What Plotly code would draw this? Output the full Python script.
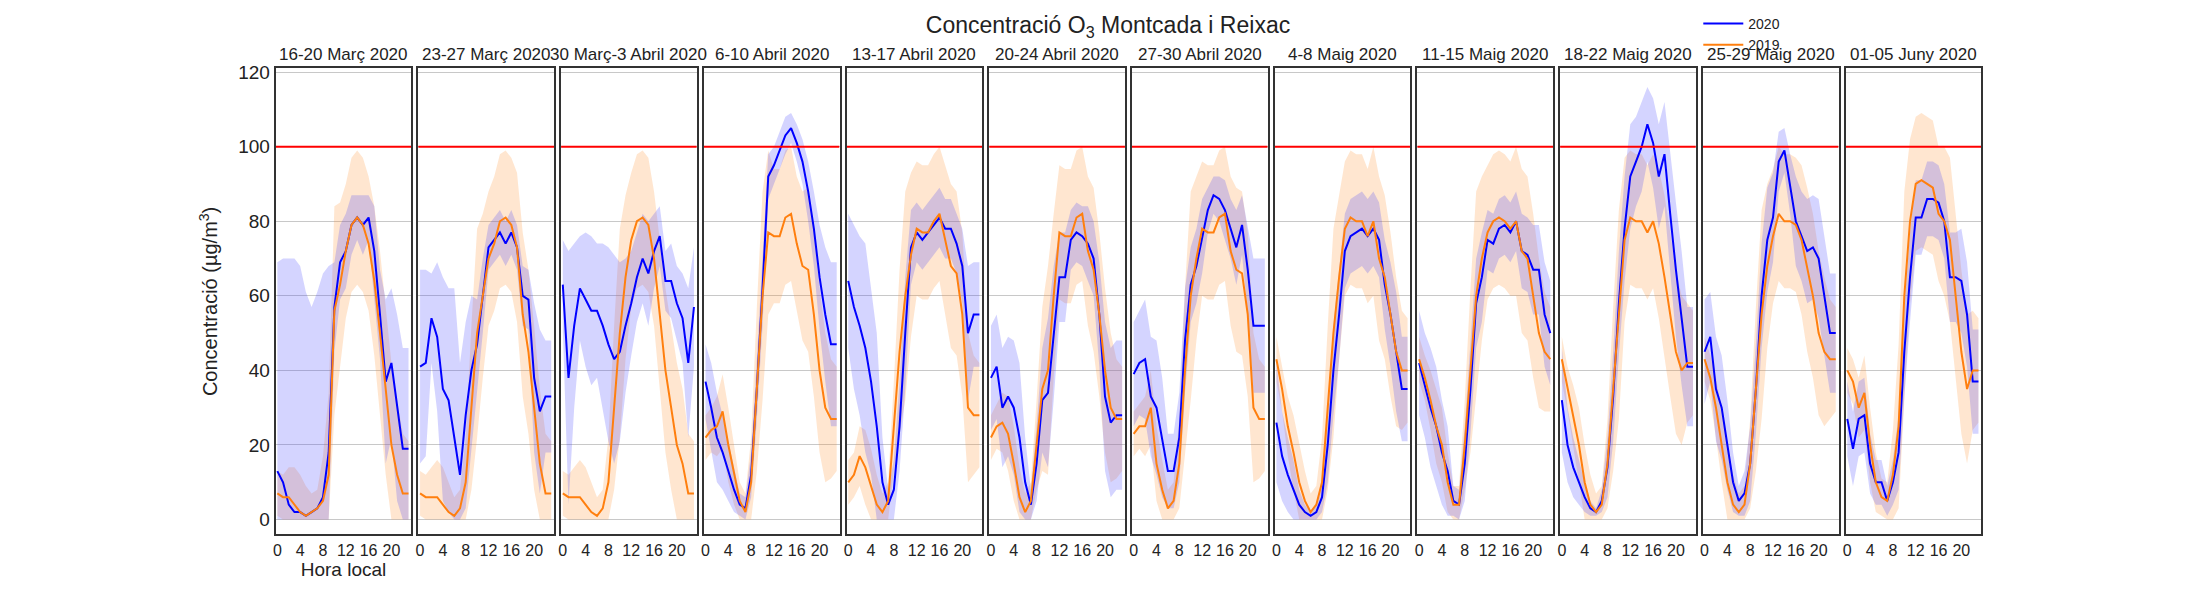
import plotly.graph_objects as go

hours = list(range(24))
titles = ["16-20 Març 2020", "23-27 Març 2020", "30 Març-3 Abril 2020", "6-10 Abril 2020",
          "13-17 Abril 2020", "20-24 Abril 2020", "27-30 Abril 2020", "4-8 Maig 2020",
          "11-15 Maig 2020", "18-22 Maig 2020", "25-29 Maig 2020", "01-05 Juny 2020"]

mean2020 = [
    [13, 10, 4, 2, 2, 1, 2, 3, 6, 18, 57, 69, 72, 79, 81, 79, 81, 72, 55, 37, 42, 30, 19, 19],
    [41, 42, 54, 49, 35, 32, 22, 12, 28, 40, 47, 60, 73, 75, 77, 74, 77, 73, 60, 59, 38, 29, 33, 33],
    [63, 38, 52, 62, 59, 56, 56, 52, 47, 43, 45, 52, 58, 65, 70, 66, 72, 76, 64, 64, 58, 54, 42, 57],
    [37, 30, 22, 18, 13, 8, 4, 3, 12, 35, 62, 92, 95, 99, 103, 105, 101, 96, 88, 78, 65, 55, 47, 47],
    [64, 57, 52, 46, 37, 25, 10, 4, 8, 25, 50, 73, 77, 75, 77, 79, 81, 78, 78, 74, 68, 50, 55, 55],
    [38, 41, 30, 33, 30, 22, 10, 4, 15, 32, 34, 50, 65, 65, 75, 77, 76, 74, 70, 55, 33, 26, 28, 28],
    [39, 42, 43, 33, 30, 22, 13, 13, 22, 48, 63, 68, 76, 83, 87, 86, 83, 78, 73, 79, 67, 52, 52, 52],
    [26, 17, 12, 8, 4, 2, 1, 2, 6, 20, 40, 55, 72, 76, 77, 78, 76, 78, 75, 63, 55, 45, 35, 35],
    [42, 36, 30, 25, 18, 13, 5, 4, 15, 35, 58, 65, 75, 74, 78, 79, 77, 80, 72, 71, 67, 67, 55, 50],
    [32, 20, 14, 10, 6, 3, 2, 5, 14, 33, 58, 78, 92, 96, 100, 106, 101, 92, 98, 82, 67, 54, 41, 41],
    [45, 49, 35, 30, 20, 10, 5, 7, 15, 35, 60, 75, 81, 96, 99, 90, 80, 76, 72, 73, 70, 60, 50, 50],
    [27, 19, 27, 28, 15, 10, 10, 5, 10, 18, 45, 65, 81, 81, 86, 86, 85, 80, 65, 65, 64, 55, 37, 37],
]
mean2019 = [
    [7, 6, 6, 4, 2, 1, 2, 3, 5, 12, 56, 63, 72, 79, 81, 79, 74, 64, 50, 34, 20, 12, 7, 7],
    [7, 6, 6, 6, 4, 2, 1, 3, 10, 30, 50, 60, 70, 74, 80, 81, 79, 73, 55, 45, 30, 15, 7, 7],
    [7, 6, 6, 6, 4, 2, 1, 3, 10, 30, 50, 65, 75, 80, 81, 79, 70, 55, 40, 30, 20, 15, 7, 7],
    [22, 24, 25, 29, 20, 12, 5, 2, 10, 35, 60, 77, 76, 76, 81, 82, 74, 68, 67, 55, 40, 30, 27, 27],
    [10, 12, 17, 14, 9, 4, 2, 5, 25, 45, 60, 71, 78, 77, 77, 80, 82, 75, 68, 66, 55, 30, 28, 28],
    [22, 25, 26, 23, 15, 6, 2, 5, 20, 35, 40, 60, 77, 76, 76, 81, 82, 72, 67, 55, 40, 30, 27, 27],
    [23, 25, 25, 30, 15, 8, 3, 5, 15, 40, 60, 70, 78, 77, 77, 81, 82, 72, 67, 66, 55, 30, 27, 27],
    [43, 35, 25, 18, 10, 5, 2, 4, 10, 30, 50, 65, 78, 81, 80, 80, 76, 80, 70, 65, 55, 45, 40, 40],
    [43, 38, 32, 25, 20, 10, 4, 4, 20, 40, 60, 70, 77, 80, 81, 80, 78, 80, 72, 70, 60, 50, 45, 43],
    [43, 35, 28, 20, 10, 4, 2, 4, 15, 35, 55, 75, 81, 80, 80, 77, 80, 74, 65, 55, 45, 40, 42, 42],
    [43, 38, 30, 20, 10, 4, 2, 4, 15, 35, 55, 68, 76, 82, 80, 80, 79, 75, 67, 60, 50, 45, 43, 43],
    [40, 37, 30, 34, 20, 10, 6, 5, 12, 25, 60, 80, 90, 91, 90, 89, 82, 80, 75, 60, 45, 35, 40, 40],
]
# half-width of shaded bands
spread2020 = [
    [56, 60, 66, 68, 66, 60, 55, 58, 60, 50, 12, 10, 10, 8, 6, 8, 6, 12, 12, 22, 20, 25, 27, 27],
    [26, 25, 12, 20, 30, 30, 40, 30, 25, 20, 12, 10, 6, 6, 6, 6, 6, 6, 8, 8, 20, 22, 15, 15],
    [12, 34, 22, 14, 18, 20, 18, 22, 26, 28, 24, 18, 14, 12, 12, 14, 10, 8, 8, 10, 10, 12, 20, 16],
    [10, 12, 12, 10, 8, 6, 3, 3, 6, 8, 10, 6, 5, 5, 5, 4, 5, 6, 8, 10, 14, 18, 22, 22],
    [18, 22, 24, 28, 25, 25, 12, 4, 8, 12, 15, 10, 8, 8, 8, 8, 8, 8, 8, 8, 10, 18, 14, 14],
    [14, 14, 16, 16, 18, 20, 12, 4, 10, 14, 20, 18, 12, 12, 8, 8, 8, 10, 10, 14, 20, 20, 20, 20],
    [14, 14, 16, 16, 18, 16, 10, 10, 12, 14, 10, 10, 10, 6, 5, 6, 8, 8, 10, 8, 12, 18, 18, 18],
    [16, 12, 10, 8, 4, 2, 1, 2, 4, 10, 12, 12, 10, 10, 10, 10, 10, 10, 10, 12, 14, 16, 14, 14],
    [14, 14, 16, 16, 14, 12, 4, 4, 10, 12, 12, 12, 8, 8, 8, 8, 8, 8, 10, 10, 12, 12, 14, 14],
    [14, 10, 8, 6, 4, 2, 1, 3, 8, 12, 14, 14, 14, 12, 12, 10, 12, 14, 14, 16, 18, 18, 16, 16],
    [14, 12, 14, 14, 12, 8, 4, 6, 10, 12, 14, 14, 12, 8, 6, 8, 12, 12, 14, 14, 16, 16, 16, 16],
    [10, 10, 10, 10, 8, 6, 6, 4, 6, 10, 12, 12, 10, 10, 10, 10, 10, 10, 12, 12, 14, 14, 14, 14],
]
spread2019 = [6, 6, 8, 10, 10, 8, 5, 5, 12, 22, 28, 22, 18, 18, 18, 18, 18, 20, 22, 22, 22, 20, 16, 14]

fig = go.Figure()
n = len(titles)
x0, x1 = 265 / 2200, 1973 / 2200
gap = 7 / 2200
w = (x1 - x0 + gap) / n - gap
font = "Liberation Sans, Arial, sans-serif"
ydom = [0.124, 0.91]

for i in range(n):
    ax = "" if i == 0 else str(i + 1)
    xa, ya = "x" + ax, "y" + ax
    for mean, spread, fill in [
        (mean2019[i], spread2019, "rgba(255,140,40,0.22)"),
        (mean2020[i], spread2020[i], "rgba(60,60,255,0.22)"),
    ]:
        hi = [m + s for m, s in zip(mean, spread)]
        lo = [max(m - s, 0) for m, s in zip(mean, spread)]
        fig.add_trace(go.Scatter(x=hours + hours[::-1], y=hi + lo[::-1], fill="toself",
                                 fillcolor=fill, line=dict(width=0), hoverinfo="skip",
                                 showlegend=False, xaxis=xa, yaxis=ya))
    for mean, col, name in [(mean2020[i], "blue", "2020"), (mean2019[i], "#ff7f0e", "2019")]:
        fig.add_trace(go.Scatter(x=hours, y=mean, mode="lines", line=dict(color=col, width=2),
                                 name=name, showlegend=(i == 0), legendgroup=name,
                                 xaxis=xa, yaxis=ya))
    fig.add_trace(go.Scatter(x=[-0.5, 23.5], y=[100, 100], mode="lines",
                             line=dict(color="red", width=2), showlegend=False,
                             xaxis=xa, yaxis=ya, hoverinfo="skip"))
    d0 = x0 + i * (w + gap)
    fig.layout["xaxis" + ax] = dict(domain=[d0, d0 + w], range=[-0.3, 23.5], tickvals=[0, 4, 8, 12, 16, 20],
                                    showgrid=False, showline=True, mirror=True, linecolor="#333",
                                    linewidth=2, zeroline=False, anchor=ya,
                                    tickfont=dict(size=16, color="#222"), ticks="")
    fig.layout["yaxis" + ax] = dict(range=[-4, 121], tickvals=[0, 20, 40, 60, 80, 100, 120],
                                    showgrid=True, gridcolor="#c8c8c8", showline=True, mirror=True,
                                    linecolor="#333", linewidth=2, zeroline=False, anchor=xa,
                                    showticklabels=(i == 0), tickfont=dict(size=19, color="#222"),
                                    domain=ydom)
    fig.add_annotation(text=titles[i], x=d0 + w / 2, y=ydom[1] + 0.004, xref="paper", yref="paper",
                       showarrow=False, xanchor="center", yanchor="bottom",
                       font=dict(size=17, color="#222", family=font))

fig.layout.yaxis.title = dict(text="Concentració (µg/m<sup>3</sup>)", font=dict(size=20, color="#222"))
fig.layout.xaxis.title = dict(text="Hora local", font=dict(size=19, color="#222"), standoff=2)
fig.update_layout(
    width=2200, height=600, plot_bgcolor="white", paper_bgcolor="white",
    font=dict(family=font),
    title=dict(text="Concentració O<sub>3</sub> Montcada i Reixac", x=0.5, xanchor="center",
               y=0.985, yanchor="top", font=dict(size=23, color="#222")),
    legend=dict(x=0.768, y=1.012, xanchor="left", yanchor="top", font=dict(size=14, color="#222"),
                bgcolor="rgba(0,0,0,0)", tracegroupgap=0, itemwidth=40),
    margin=dict(l=0, r=0, t=0, b=0),
)
fig.write_html("out.html")
